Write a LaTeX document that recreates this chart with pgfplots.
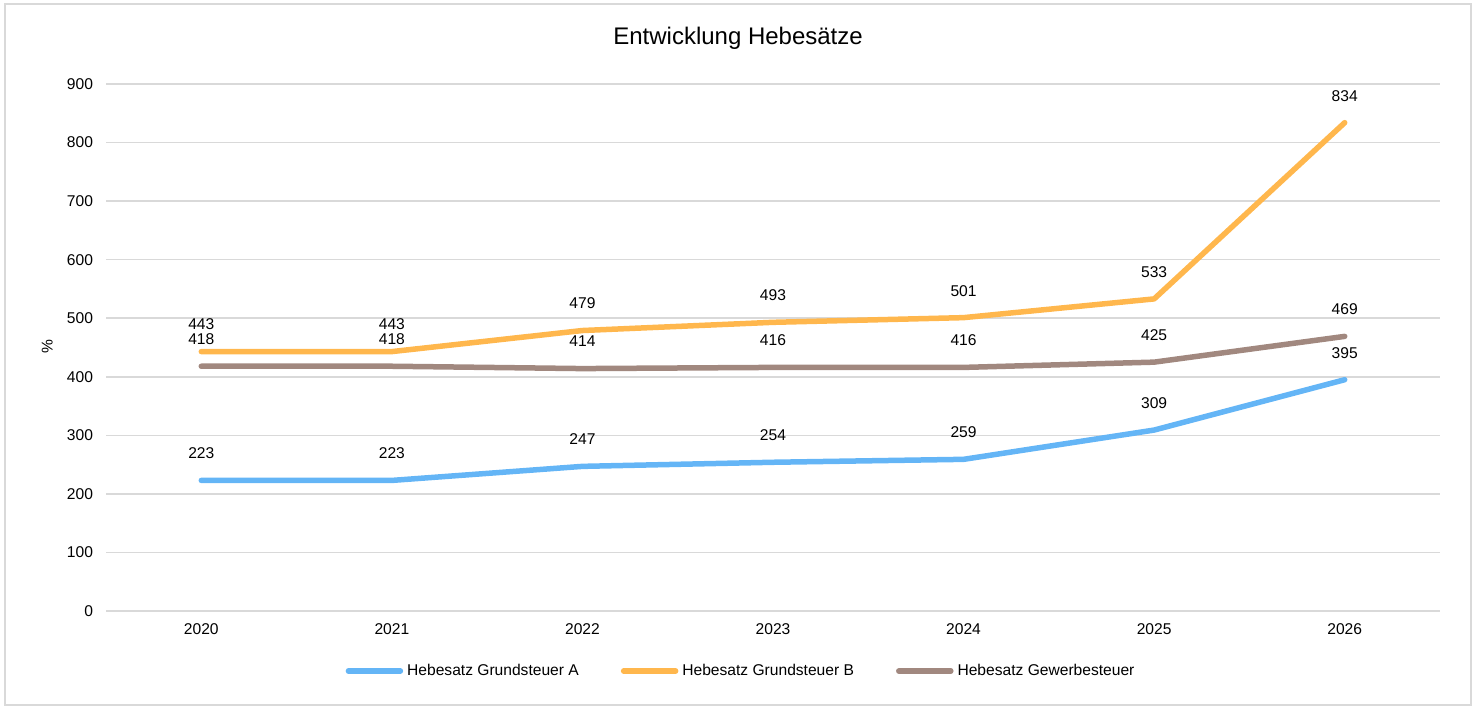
\documentclass[border=0pt]{standalone}
\usepackage{pgfplots}
\pgfplotsset{compat=1.18}
\usepackage{fontspec}
\setmainfont{Liberation Sans}
\definecolor{cA}{HTML}{64B5F6}
\definecolor{cB}{HTML}{FFB74D}
\definecolor{cG}{HTML}{A1887F}
\definecolor{gridc}{HTML}{D9D9D9}
\begin{document}
\begin{tikzpicture}
\path (-53pt,-46.5pt) rectangle (685pt,305.5pt);
\draw[gridc, line width=1pt] (-50.5pt,-47pt) rectangle (682.5pt,303.5pt);
\begin{axis}[
  at={(0,0)}, anchor=south west,
  scale only axis, width=667pt, height=263.5pt,
  xmin=-0.5, xmax=6.5, ymin=0, ymax=900,
  xtick={0,...,6},
  xticklabels={2020,2021,2022,2023,2024,2025,2026},
  ytick={0,100,...,900},
  axis line style={draw=none},
  major tick length=0pt,
  ymajorgrids, grid style={gridc, line width=0.75pt},
  tick label style={font=\fontsize{7.8pt}{9pt}\selectfont},
  /pgf/number format/assume math mode=true,
  yticklabel style={xshift=-3pt},
  xticklabel style={yshift=-3pt},
  ylabel={\%},
  every axis y label/.style={at={(axis description cs:-0.044,0.501)}, rotate=90, anchor=center, font=\fontsize{7.8pt}{9pt}\selectfont},
  clip=false,
  nodes near coords,
  every node near coord/.append style={anchor=center, yshift=13.5pt, font=\fontsize{7.8pt}{9pt}\selectfont, text=black},
  legend columns=3,
  legend style={draw=none, at={(0.4768,-0.1139)}, anchor=center, font=\fontsize{7.8pt}{9pt}\selectfont,
    /tikz/every even column/.append style={column sep=19pt}, inner sep=0pt},
  legend image code/.code={\draw[#1, line cap=round] (0pt,0pt) -- (26pt,0pt);},
  legend cell align=left,
]
\addplot[cA, line width=2.75pt, line join=round, line cap=round] coordinates {(0,223) (1,223) (2,247) (3,254) (4,259) (5,309) (6,395)};
\addlegendentry{Hebesatz Grundsteuer A}
\addplot[cB, line width=2.75pt, line join=round, line cap=round] coordinates {(0,443) (1,443) (2,479) (3,493) (4,501) (5,533) (6,834)};
\addlegendentry{Hebesatz Grundsteuer B}
\addplot[cG, line width=2.75pt, line join=round, line cap=round] coordinates {(0,418) (1,418) (2,414) (3,416) (4,416) (5,425) (6,469)};
\addlegendentry{Hebesatz Gewerbesteuer}
\node[font=\fontsize{12pt}{14pt}\selectfont, anchor=center] at (axis description cs:0.4738,1.0873) {Entwicklung Hebesätze};
\end{axis}
\end{tikzpicture}
\end{document}
